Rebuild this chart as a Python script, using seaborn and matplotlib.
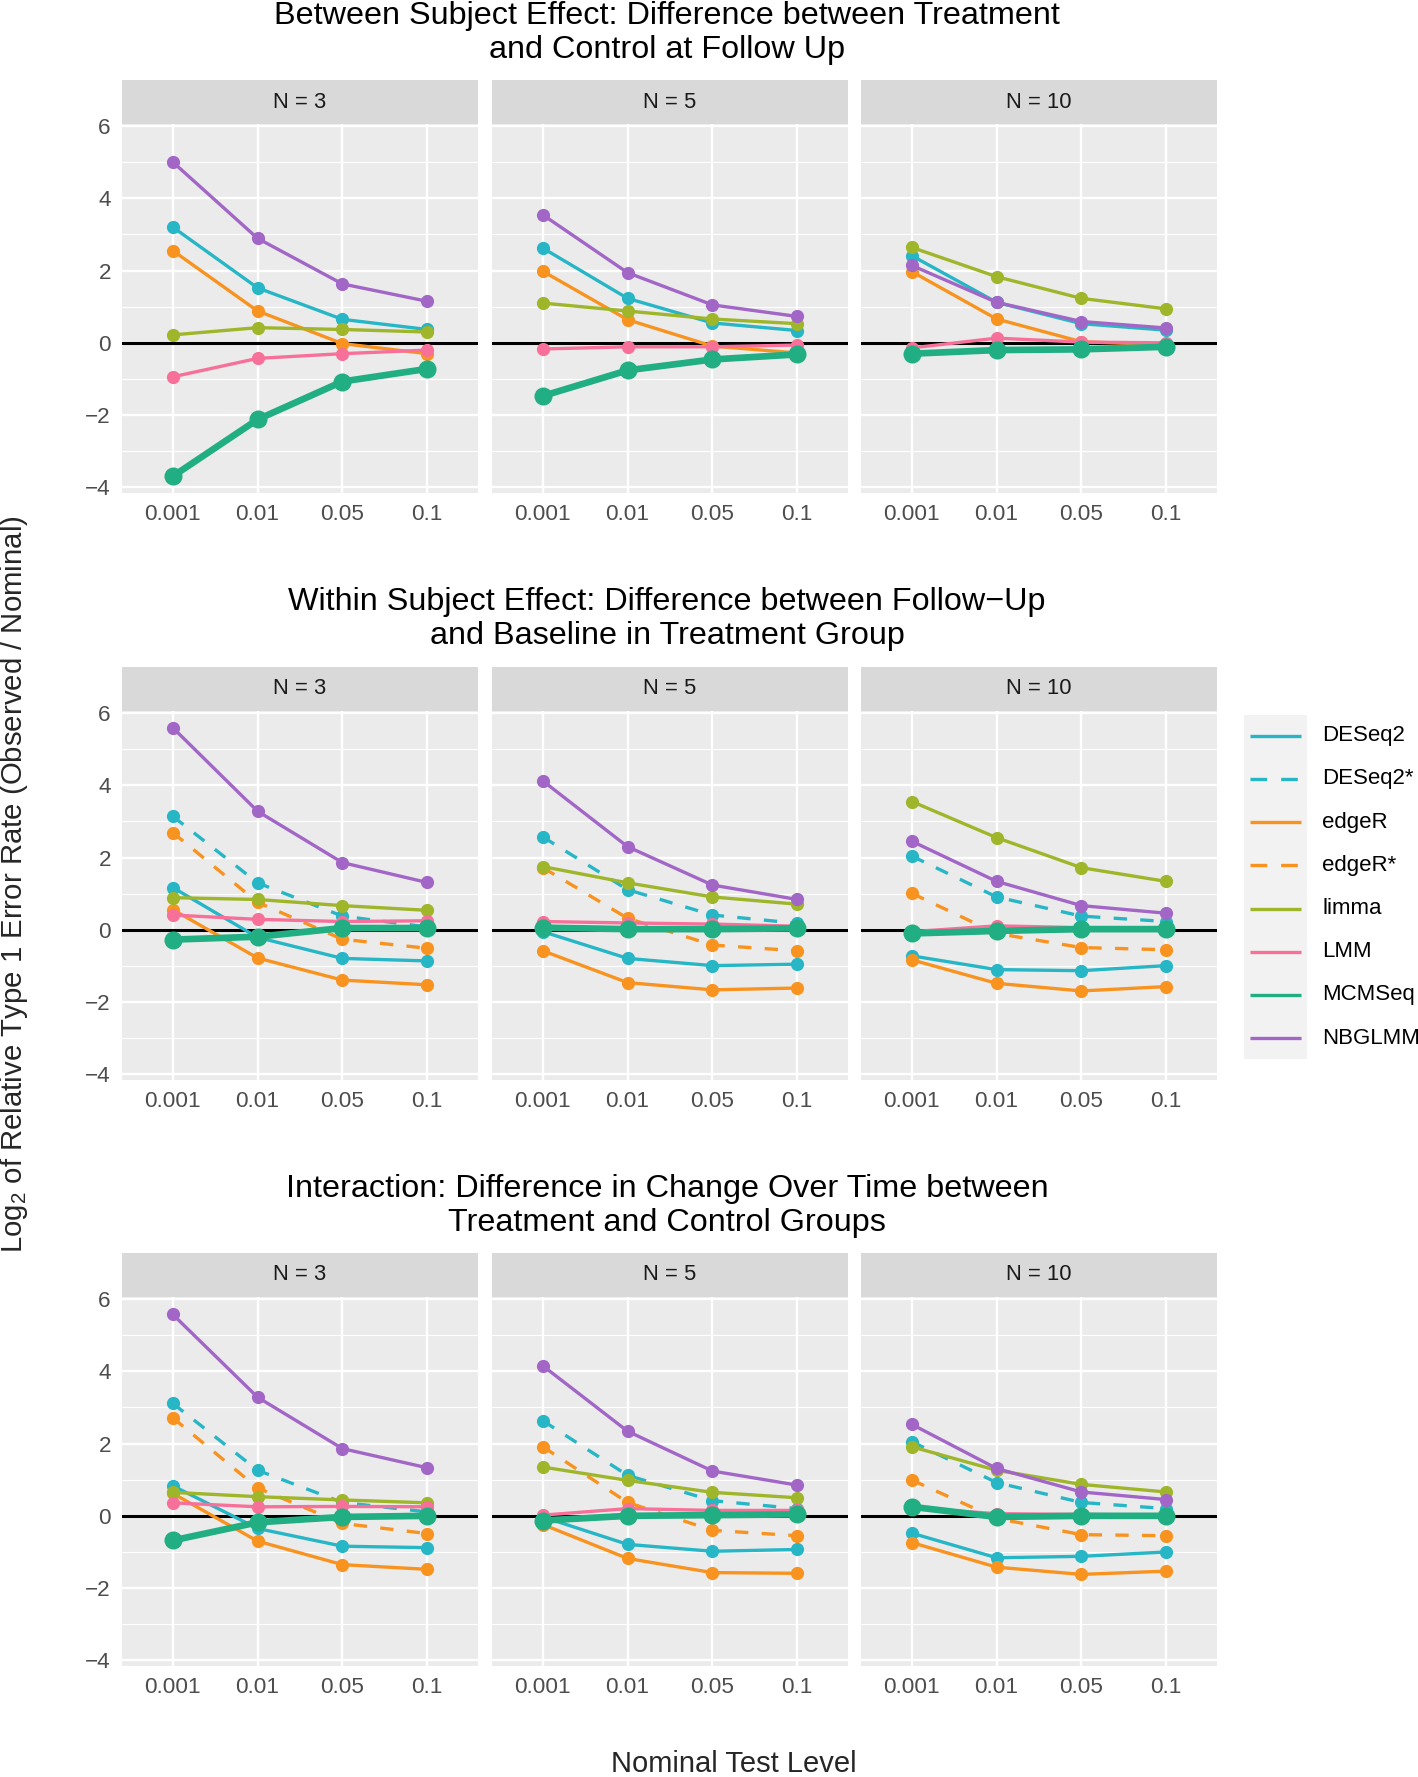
import numpy as np
import pandas as pd
import matplotlib
matplotlib.use("Agg")
import matplotlib.pyplot as plt
from matplotlib.patches import Rectangle
import seaborn as sns

levels = ["0.001", "0.01", "0.05", "0.1"]
sample_sizes = ["N = 3", "N = 5", "N = 10"]
methods = ["DESeq2", "DESeq2*", "edgeR", "edgeR*", "limma", "LMM", "MCMSeq", "NBGLMM"]
method_colors = ["#26B6C6", "#26B6C6", "#F8931F", "#F8931F", "#9FB52A", "#F7709A", "#20AE82", "#A166C6"]
method_dashed = [False, True, False, True, False, False, False, False]

row_titles = [
    "Between Subject Effect: Difference between Treatment\nand Control at Follow Up",
    "Within Subject Effect: Difference between Follow\u2212Up\nand Baseline in Treatment Group",
    "Interaction: Difference in Change Over Time between\nTreatment and Control Groups",
]

# values per method: [N = 3, N = 5, N = 10], each over the four test levels
between = {
    "DESeq2": [[3.20, 1.52, 0.65, 0.37], [2.62, 1.23, 0.55, 0.34], [2.41, 1.12, 0.53, 0.35]],
    "edgeR": [[2.55, 0.88, -0.02, -0.30], [1.98, 0.64, -0.09, -0.28], [1.97, 0.66, 0.03, -0.05]],
    "limma": [[0.22, 0.42, 0.37, 0.30], [1.10, 0.88, 0.66, 0.53], [2.64, 1.83, 1.23, 0.94]],
    "LMM": [[-0.94, -0.43, -0.30, -0.20], [-0.17, -0.11, -0.11, -0.06], [-0.14, 0.13, 0.02, 0.00]],
    "MCMSeq": [[-3.69, -2.12, -1.07, -0.72], [-1.47, -0.76, -0.46, -0.32], [-0.30, -0.20, -0.18, -0.11]],
    "NBGLMM": [[5.00, 2.89, 1.63, 1.15], [3.54, 1.94, 1.05, 0.73], [2.14, 1.12, 0.59, 0.41]],
}

within = {
    "DESeq2": [[1.17, -0.21, -0.79, -0.86], [-0.05, -0.79, -0.99, -0.95], [-0.72, -1.10, -1.13, -0.99]],
    "DESeq2*": [[3.14, 1.30, 0.38, 0.08], [2.57, 1.11, 0.41, 0.18], [2.04, 0.91, 0.38, 0.23]],
    "edgeR": [[0.56, -0.78, -1.39, -1.52], [-0.58, -1.46, -1.66, -1.61], [-0.83, -1.48, -1.69, -1.57]],
    "edgeR*": [[2.69, 0.76, -0.26, -0.51], [1.72, 0.32, -0.42, -0.58], [1.01, -0.10, -0.49, -0.55]],
    "limma": [[0.89, 0.84, 0.67, 0.54], [1.75, 1.30, 0.91, 0.71], [3.55, 2.55, 1.72, 1.34]],
    "LMM": [[0.41, 0.29, 0.23, 0.25], [0.23, 0.19, 0.16, 0.10], [-0.05, 0.11, 0.06, 0.05]],
    "MCMSeq": [[-0.27, -0.19, 0.05, 0.05], [0.06, 0.02, 0.02, 0.04], [-0.10, -0.03, 0.02, 0.02]],
    "NBGLMM": [[5.59, 3.28, 1.86, 1.31], [4.12, 2.30, 1.24, 0.84], [2.45, 1.34, 0.67, 0.46]],
}

interaction = {
    "DESeq2": [[0.83, -0.35, -0.84, -0.88], [-0.03, -0.79, -0.98, -0.93], [-0.48, -1.16, -1.12, -1.00]],
    "DESeq2*": [[3.11, 1.26, 0.37, 0.11], [2.63, 1.12, 0.42, 0.20], [2.05, 0.92, 0.37, 0.20]],
    "edgeR": [[0.62, -0.70, -1.35, -1.48], [-0.24, -1.18, -1.57, -1.59], [-0.74, -1.42, -1.62, -1.53]],
    "edgeR*": [[2.71, 0.77, -0.21, -0.49], [1.91, 0.37, -0.40, -0.55], [0.99, -0.07, -0.52, -0.55]],
    "limma": [[0.65, 0.53, 0.44, 0.36], [1.35, 0.98, 0.65, 0.50], [1.91, 1.26, 0.87, 0.66]],
    "LMM": [[0.36, 0.25, 0.26, 0.25], [0.02, 0.20, 0.15, 0.15], [0.22, 0.06, 0.04, 0.02]],
    "MCMSeq": [[-0.68, -0.18, -0.03, 0.00], [-0.13, 0.00, 0.02, 0.04], [0.25, -0.03, 0.00, 0.00]],
    "NBGLMM": [[5.57, 3.28, 1.86, 1.33], [4.15, 2.34, 1.24, 0.85], [2.53, 1.31, 0.66, 0.45]],
}

effects = [between, within, interaction]

# long table
rows = []
for r, eff in enumerate(effects):
    for m, per_n in eff.items():
        for c, vals in enumerate(per_n):
            for lev, v in zip(levels, vals):
                rows.append({"row": r, "n": sample_sizes[c], "method": m, "level": lev, "value": v})
df = pd.DataFrame(rows)

sns.set_theme(style="darkgrid")
plt.rcParams["font.family"] = ["Liberation Sans", "DejaVu Sans"]
plt.rcParams["mathtext.fontset"] = "custom"
plt.rcParams["mathtext.rm"] = "Liberation Sans"
plt.rcParams["mathtext.it"] = "Liberation Sans"

W, H = 1418, 1777
fig = plt.figure(figsize=(W / 100, H / 100), dpi=100)
fig.patch.set_facecolor("white")


def rect(x0, y0, x1, y1):
    return [x0 / W, 1 - y1 / H, (x1 - x0) / W, (y1 - y0) / H]


col_x = [(122, 478), (492, 848), (861, 1217)]
row_y = [(124, 493), (711, 1080), (1297, 1666)]
strip_h = 44
title_y = [33, 619, 1206]

lo, hi = df["value"].min(), df["value"].max()
pad = (hi - lo) * 0.05
ylim = (lo - pad, hi + pad)

for r in range(3):
    fig.text(667 / W, 1 - title_y[r] / H, row_titles[r], ha="center", va="center",
             fontsize=23.3, linespacing=1.15, color="black")
    for c in range(3):
        x0, x1 = col_x[c]
        y0, y1 = row_y[r]
        ax = fig.add_axes(rect(x0, y0, x1, y1))
        ax.set_facecolor("#EBEBEB")
        ax.axhline(0, color="black", lw=2.2, zorder=1.5)
        sub = df[(df["row"] == r) & (df["n"] == sample_sizes[c])]
        for m, col, dashed in zip(methods, method_colors, method_dashed):
            d = sub[sub["method"] == m]
            if d.empty:
                continue
            thick = m == "MCMSeq"
            sns.lineplot(data=d, x="level", y="value", ax=ax, color=col, sort=False,
                         lw=4.8 if thick else 2.4, marker="o",
                         markersize=13 if thick else 9.5, markeredgewidth=0,
                         linestyle=(0, (4, 4)) if dashed else "-", legend=False)
        ax.set_xlim(-0.6, 3.6)
        ax.set_ylim(*ylim)
        ax.set_yticks([-4, -2, 0, 2, 4, 6])
        ax.set_yticks([-3, -1, 1, 3, 5], minor=True)
        ax.grid(which="major", color="white", lw=1.7)
        ax.grid(which="minor", axis="y", color="white", lw=0.8)
        ax.set_axisbelow(True)
        for s in ax.spines.values():
            s.set_visible(False)
        ax.set_xlabel("")
        ax.set_ylabel("")
        ax.tick_params(axis="both", which="major", length=4, width=1.2, color="#333333",
                       labelsize=16.2, labelcolor="#4D4D4D", pad=4)
        ax.tick_params(axis="both", which="minor", length=0)
        if c > 0:
            ax.tick_params(axis="y", labelleft=False, length=0)

        sax = fig.add_axes(rect(x0, y0 - strip_h, x1, y0))
        sax.set_facecolor("#D9D9D9")
        sax.set_xticks([])
        sax.set_yticks([])
        for s in sax.spines.values():
            s.set_visible(False)
        sax.text(0.5, 0.5, sample_sizes[c], ha="center", va="center", fontsize=15.8,
                 color="#1A1A1A", transform=sax.transAxes)

# legend
lax = fig.add_axes(rect(1244, 715, 1418, 1059))
lax.set_xlim(1244, 1418)
lax.set_ylim(1059, 715)
lax.axis("off")
lax.add_patch(Rectangle((1244, 715), 63, 344, color="#F2F2F2", lw=0))
for i, (m, col, dashed) in enumerate(zip(methods, method_colors, method_dashed)):
    yy = 735.7 + 43.2 * i
    lax.plot([1250, 1301], [yy, yy], color=col, lw=2.4,
             linestyle=(0, (5, 4.2)) if dashed else "-", solid_capstyle="butt",
             dash_capstyle="butt")
    lax.text(1322, yy, m, va="center", ha="left", fontsize=16, color="black")

fig.text(14 / W, 1 - 884 / H, r"Log$_2$ of Relative Type 1 Error Rate (Observed / Nominal)",
         rotation=90, ha="center", va="center", fontsize=21.2)
fig.text(734 / W, 1 - 1764 / H, "Nominal Test Level", ha="center", va="center", fontsize=21)

fig.savefig("out.png", dpi=100, facecolor="white")
